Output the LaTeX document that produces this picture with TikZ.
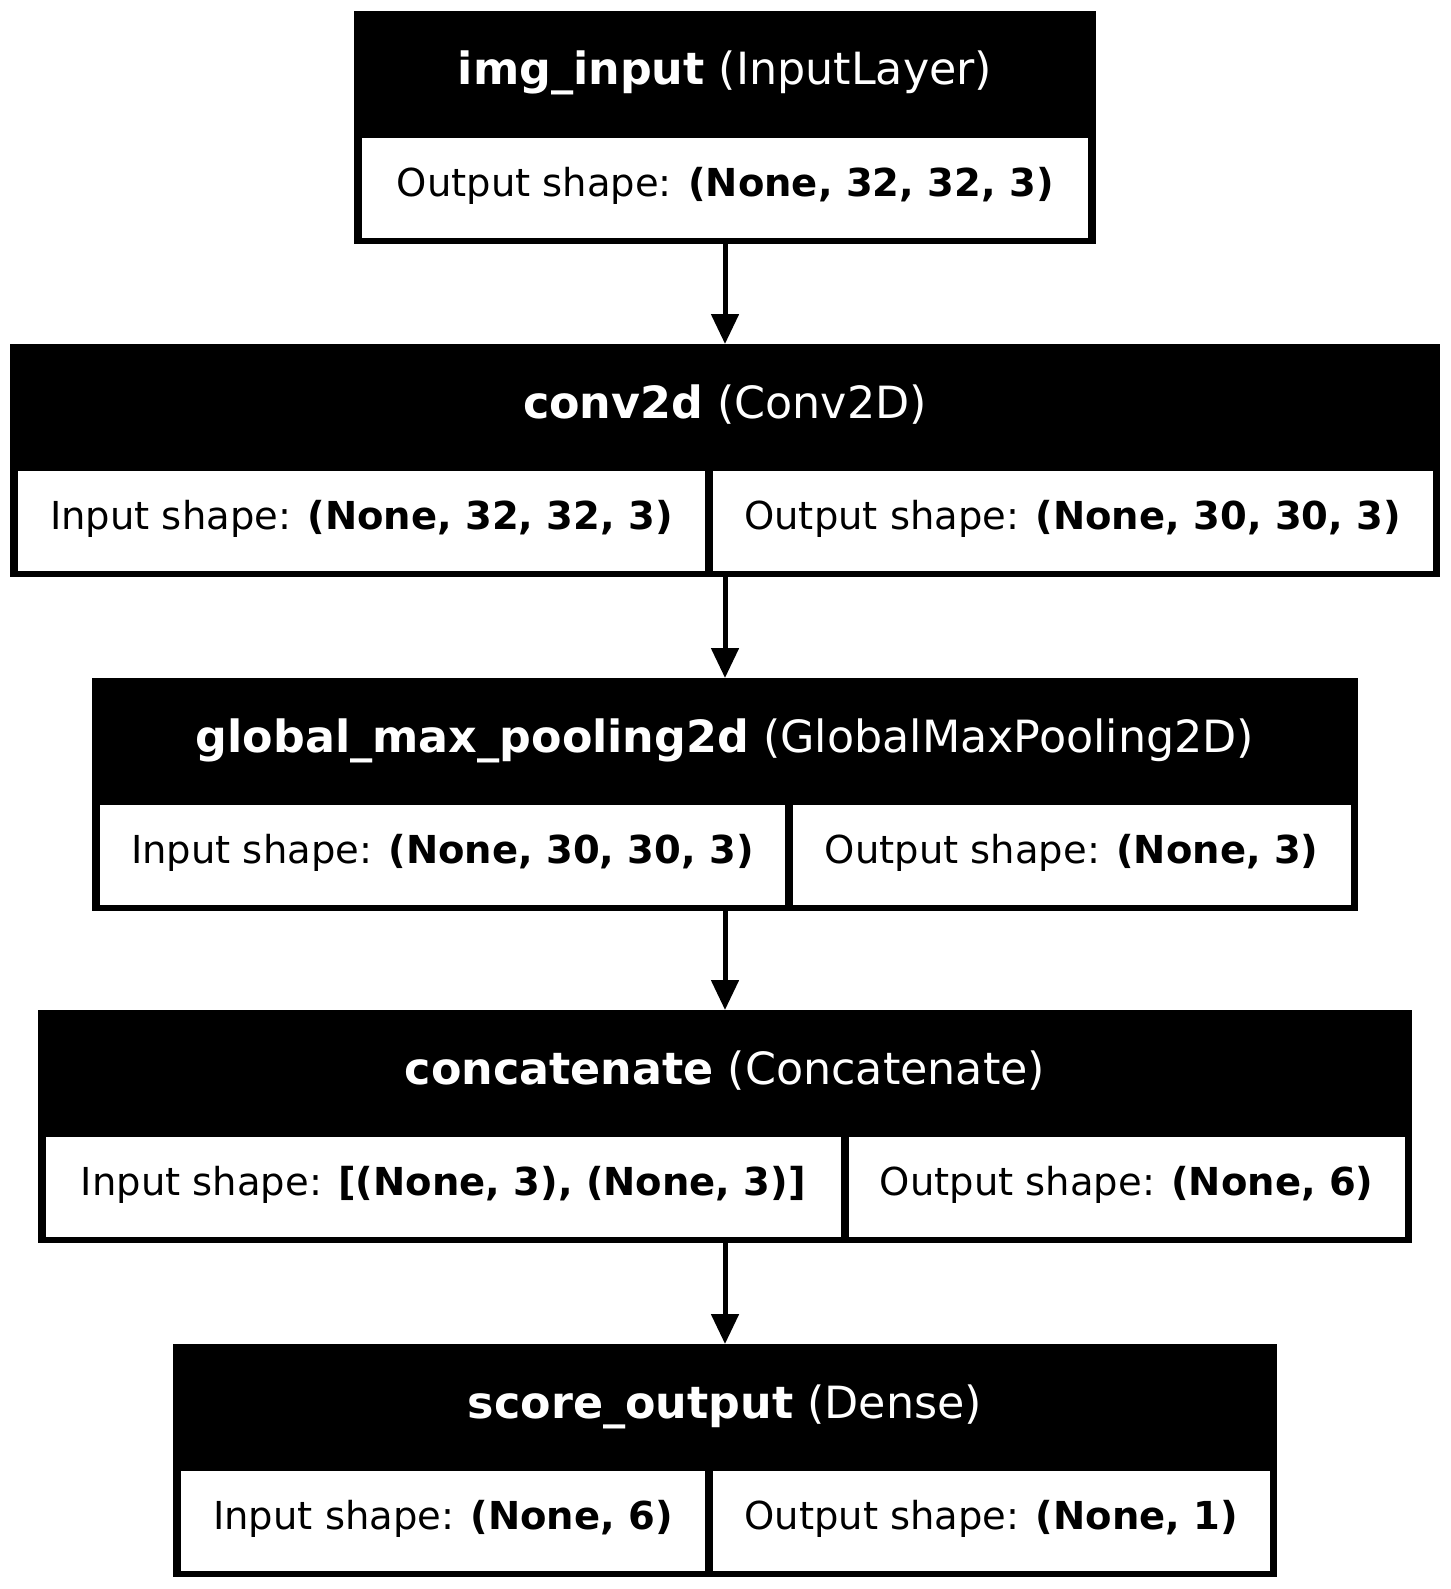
\documentclass[tikz,border=0pt]{standalone}
\usepackage{fontspec}
\setmainfont{DejaVu Sans}
\usetikzlibrary{arrows.meta}

\tikzset{
  layerbox/.style={fill=black, inner sep=0pt, minimum height=233pt, anchor=north},
  headtext/.style={text=white, inner sep=0pt, anchor=base, font=\fontsize{44.4}{53}\selectfont},
  shapecell/.style={fill=white, inner sep=0pt, anchor=north west, minimum height=100pt,
    text height=28pt, text depth=11pt, font=\fontsize{38.5}{46}\selectfont},
  flow/.style={line width=5pt, -{Triangle[length=30pt,width=27pt]}}
}

\begin{document}
\begin{tikzpicture}[x=1pt,y=-1pt]
\useasboundingbox (0,0) rectangle (1450,1589);
% img_input
\node[layerbox, minimum width=742pt] (imginput) at (725,11) {};
\node[headtext] (imginputhead) at (725,85) {\textbf{img\_input} (InputLayer)};
\node[shapecell, minimum width=726pt] (imginputout) at (362,137.5) {Output shape: \textbf{(None, 32, 32, 3)}};
% conv2d
\node[layerbox, minimum width=1430pt] (conv) at (725,344) {};
\node[headtext] (convhead) at (725,418) {\textbf{conv2d} (Conv2D)};
\node[shapecell, minimum width=687.5pt] (convin) at (17.5,470.5) {Input shape: \textbf{(None, 32, 32, 3)}};
\node[shapecell, minimum width=720pt] (convout) at (712.5,470.5) {Output shape: \textbf{(None, 30, 30, 3)}};
% global_max_pooling2d
\node[layerbox, minimum width=1266pt] (pool) at (725,678) {};
\node[headtext] (poolhead) at (725,752) {\textbf{global\_max\_pooling2d} (GlobalMaxPooling2D)};
\node[shapecell, minimum width=685.5pt] (poolin) at (99.5,804.5) {Input shape: \textbf{(None, 30, 30, 3)}};
\node[shapecell, minimum width=558pt] (poolout) at (792.5,804.5) {Output shape: \textbf{(None, 3)}};
% concatenate
\node[layerbox, minimum width=1374pt] (concat) at (725,1010) {};
\node[headtext] (concathead) at (725,1084) {\textbf{concatenate} (Concatenate)};
\node[shapecell, minimum width=795.5pt] (concatin) at (45.5,1136.5) {Input shape: \textbf{[(None, 3), (None, 3)]}};
\node[shapecell, minimum width=556pt] (concatout) at (848.5,1136.5) {Output shape: \textbf{(None, 6)}};
% score_output
\node[layerbox, minimum width=1104pt] (score) at (725,1344) {};
\node[headtext] (scorehead) at (725,1418) {\textbf{score\_output} (Dense)};
\node[shapecell, minimum width=524.5pt] (scorein) at (180.5,1470.5) {Input shape: \textbf{(None, 6)}};
\node[shapecell, minimum width=557pt] (scoreout) at (712.5,1470.5) {Output shape: \textbf{(None, 1)}};
% connections
\draw[flow] (imginput.south) -- (conv.north);
\draw[flow] (conv.south) -- (pool.north);
\draw[flow] (pool.south) -- (concat.north);
\draw[flow] (concat.south) -- (score.north);
\end{tikzpicture}
\end{document}
